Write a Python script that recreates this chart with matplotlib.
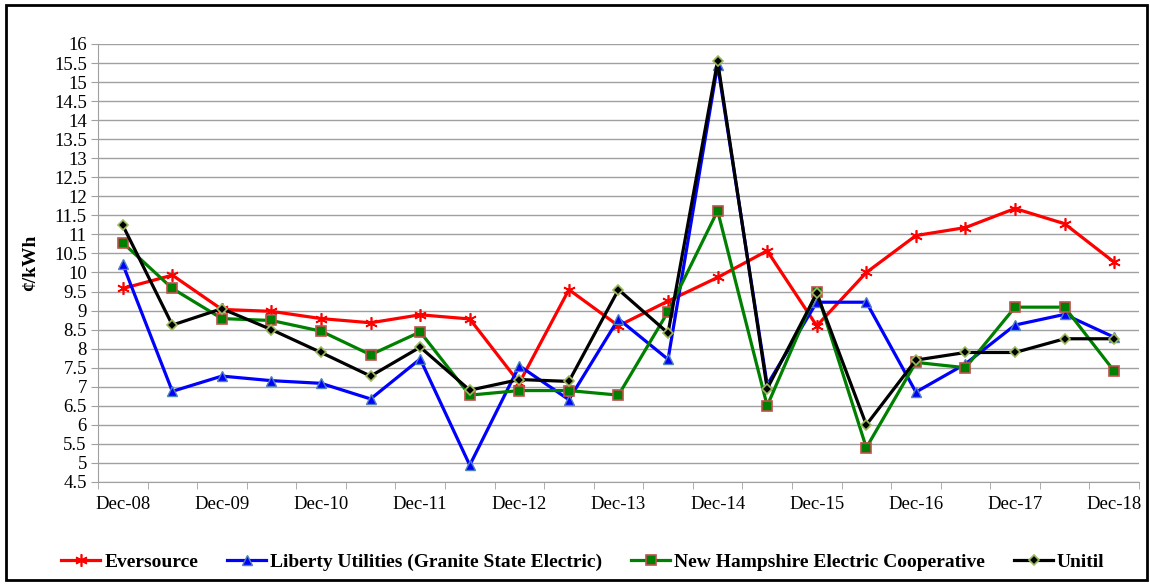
#!/usr/bin/env python3
"""NH electric utilities default service rates, Dec-08 to Dec-18."""

import matplotlib
matplotlib.use("Agg")
import matplotlib.pyplot as plt
from matplotlib.patches import Rectangle
import numpy as np

plt.rcParams["font.family"] = ["Liberation Serif", "DejaVu Serif"]

periods = []
for yr in range(8, 19):
    periods.append(f"Dec-{yr:02d}")
    if yr < 18:
        periods.append(f"Jun-{yr + 1:02d}")

eversource = [9.58, 9.93, 9.03, 8.98, 8.79, 8.68, 8.89, 8.78, 7.1, 9.55, 8.6,
              9.25, 9.87, 10.57, 8.6, 10.0, 10.97, 11.18, 11.68, 11.28, 10.27]
liberty = [10.22, 6.88, 7.28, 7.16, 7.09, 6.68, 7.73, 4.94, 7.55, 6.66, 8.78,
           7.72, 15.45, 7.05, 9.22, 9.22, 6.86, 7.6, 8.62, 8.9, 8.3]
nhec = [10.78, 9.58, 8.79, 8.74, 8.46, 7.84, 8.44, 6.78, 6.9, 6.9, 6.78,
        8.97, 11.62, 6.5, 9.5, 5.4, 7.64, 7.5, 9.09, 9.09, 7.41]
unitil = [11.24, 8.62, 9.05, 8.5, 7.9, 7.28, 8.04, 6.91, 7.19, 7.14, 9.55,
          8.41, 15.55, 6.95, 9.45, 6.0, 7.7, 7.9, 7.9, 8.26, 8.26]

fig = plt.figure(figsize=(11.5, 5.84), dpi=100)
ax = fig.add_axes([0.0852, 0.1747, 0.9052, 0.75])

x = np.arange(len(periods))
ax.plot(x, eversource, color="#ff0000", lw=2.3, marker=(6, 2, 0), ms=9,
        mec="#ff0000", mew=1.2, label="Eversource", zorder=3)
ax.plot(x, liberty, color="#0000ff", lw=2.3, marker="^", ms=7,
        mfc="#0000ff", mec="#4f81bd", mew=1.0,
        label="Liberty Utilities (Granite State Electric)", zorder=4)
ax.plot(x, nhec, color="#008000", lw=2.3, marker="s", ms=7,
        mfc="#008000", mec="#c0504d", mew=1.2,
        label="New Hampshire Electric Cooperative", zorder=5)
ax.plot(x, unitil, color="#000000", lw=2.3, marker="D", ms=5,
        mfc="#000000", mec="#9bbb59", mew=1.2, label="Unitil", zorder=6)

ax.set_xlim(-0.5, len(periods) - 0.5)
ax.set_ylim(4.5, 16)
ax.set_yticks(np.arange(4.5, 16.01, 0.5))
ax.set_yticklabels([f"{v:g}" for v in np.arange(4.5, 16.01, 0.5)])
ax.set_xticks(x[::2])
ax.set_xticklabels(periods[::2])
ax.set_xticks(np.arange(-0.5, len(periods), 1), minor=True)
ax.tick_params(axis="x", which="major", length=0, pad=10, labelsize=13.5)
ax.tick_params(axis="x", which="minor", length=5, color="#a0a0a0")
ax.tick_params(axis="y", length=5, color="#a0a0a0", labelsize=13.5, pad=3)

ax.grid(axis="y", color="#a0a0a0", lw=1.0)
ax.set_axisbelow(True)
for side in ("top", "right"):
    ax.spines[side].set_visible(False)
for side in ("left", "bottom"):
    ax.spines[side].set_color("#a0a0a0")

fig.text(0.027, 0.55, "¢/kWh", rotation=90, ha="center", va="center",
         fontsize=14, fontweight="bold")

fig.legend(loc="center", bbox_to_anchor=(0.507, 0.037), ncol=4, frameon=False,
           prop={"weight": "bold", "size": 14}, handlelength=2.0,
           handletextpad=0.2, columnspacing=1.5)

fig.patches.append(Rectangle((0.005, 0.007), 0.992, 0.985, transform=fig.transFigure,
                             fill=False, edgecolor="black", lw=2))

fig.savefig("out.png", dpi=100)
